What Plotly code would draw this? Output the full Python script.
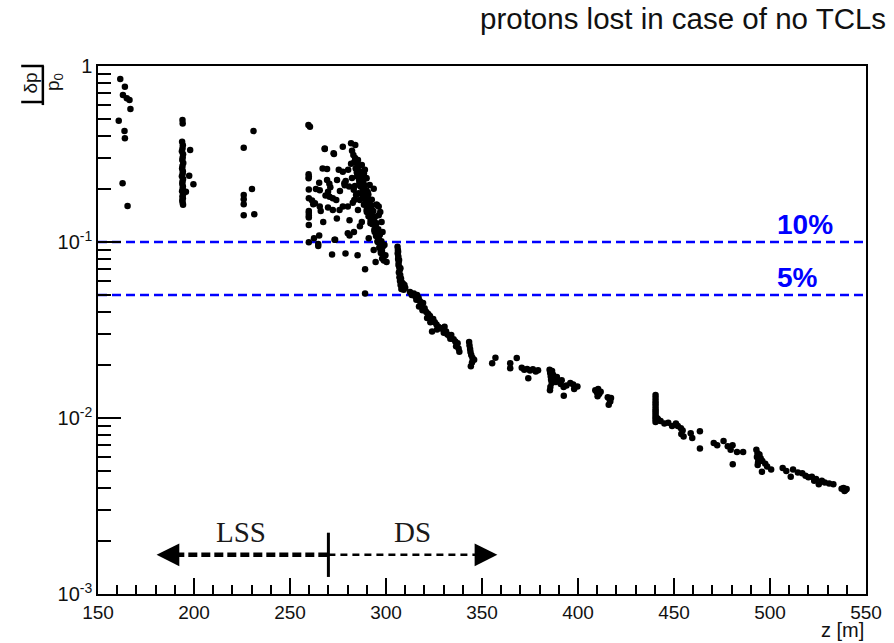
import math
import plotly.graph_objects as go

# ---- loss positions z [m] and relative momentum deviation |dp|/p0 ----
# region near z ~ 160 m
z_a = [161.6, 164.0, 163.0, 165.0, 166.4, 166.9, 160.8, 163.8, 164.0, 162.8, 165.4]
dp_a = [0.844, 0.763, 0.684, 0.655, 0.641, 0.570, 0.489, 0.427, 0.388, 0.216, 0.160]

# region near z ~ 194 m
z_b = [194.0, 194.1, 193.8, 194.2, 194.0, 193.7, 194.3, 194.1, 193.9, 194.4, 194.0, 193.8,
       194.2, 194.1, 193.7, 194.3, 194.0, 193.9, 194.2, 194.1, 193.8, 194.4, 194.0, 194.2,
       193.9, 194.1, 194.3, 198.0, 197.5, 199.7, 195.8]
dp_b = [0.493, 0.472, 0.371, 0.355, 0.340, 0.328, 0.315, 0.302, 0.292, 0.281, 0.270, 0.262,
        0.252, 0.244, 0.236, 0.228, 0.221, 0.214, 0.207, 0.200, 0.194, 0.188, 0.182, 0.177,
        0.172, 0.167, 0.163, 0.333, 0.238, 0.213, 0.193]

# region near z ~ 228 m
z_c = [225.9, 231.0, 230.2, 225.9, 225.9, 225.9, 225.9, 231.4]
dp_c = [0.343, 0.427, 0.200, 0.185, 0.175, 0.164, 0.142, 0.144]

# scattered losses between 259 m and 290 m
z_d = [259.6, 260.4, 268.1, 272.7, 277.5, 281.8, 284.0, 259.7, 259.7, 259.8, 259.8, 259.8,
       259.8, 259.8, 259.8, 259.8, 259.8, 259.8, 264.7, 269.3, 269.3, 265.2, 265.5, 269.8,
       270.6, 272.3, 274.1, 262.1, 265.5, 269.8, 272.3, 275.8, 277.5, 280.1, 282.7, 283.5,
       267.3, 274.4, 281.0, 286.4, 280.1, 281.0, 265.2, 273.2, 264.7, 271.9, 278.9, 285.2,
       289.1, 289.1, 275.4, 277.5, 281.8, 284.7, 285.2, 268.1, 272.9, 273.5, 261.5, 263.0,
       266.0, 268.5, 270.5, 271.0, 276.0, 278.5, 279.0, 267.0, 263.5, 274.5, 262.5,
       278.3, 280.8, 283.2, 285.7, 287.8]
dp_d = [0.462, 0.452, 0.338, 0.319, 0.348, 0.364, 0.356, 0.243, 0.230, 0.199, 0.177, 0.146,
        0.138, 0.125, 0.0996, 0.235, 0.150, 0.141, 0.0974, 0.260, 0.225, 0.217, 0.197, 0.193,
        0.181, 0.177, 0.173, 0.164, 0.159, 0.157, 0.152, 0.152, 0.159, 0.159, 0.167, 0.173,
        0.130, 0.136, 0.133, 0.123, 0.112, 0.109, 0.109, 0.103, 0.095, 0.085, 0.086, 0.084,
        0.070, 0.051, 0.257, 0.251, 0.278, 0.280, 0.257, 0.340, 0.316, 0.103, 0.172, 0.166,
        0.150, 0.184, 0.214, 0.205, 0.195, 0.210, 0.222, 0.262, 0.200, 0.225, 0.105,
        0.216, 0.207, 0.198, 0.189, 0.181]

# dense cloud between 280 m and 301 m
z_e = [284.2, 284.8, 285.5, 285.0, 285.9, 286.3, 286.8, 286.1, 287.2, 287.6, 286.9, 288.1,
       288.4, 287.8, 289.0, 289.3, 288.7, 289.8, 290.2, 289.5, 290.8, 291.1, 290.4, 291.6,
       292.0, 291.3, 292.5, 292.9, 292.2, 293.4, 293.8, 293.0, 294.3, 294.6, 293.9, 295.1,
       295.5, 294.8, 296.0, 296.3, 295.7, 296.8, 297.1, 296.5, 297.6, 297.9, 297.3, 298.3,
       298.6, 298.0, 298.9, 296.2, 297.0, 295.2, 288.5, 289.9, 283.5, 283.9, 284.6, 291.9,
       290.9, 289.9, 282.3, 283.0,
       280.3, 282.3, 283.8, 286.9, 289.5, 290.5, 292.6, 293.6, 295.1, 296.2, 297.7, 298.2,
       299.2, 299.7, 300.3, 288.5, 290.0, 292.0, 294.1, 295.6, 297.2, 286.4, 284.4, 285.4,
       287.4, 291.0, 293.6, 294.6, 285.4, 287.4, 289.0, 291.5, 283.3]
dp_e = [0.262, 0.248, 0.270, 0.236, 0.228, 0.252, 0.241, 0.219, 0.230, 0.214, 0.206, 0.222,
        0.199, 0.193, 0.210, 0.188, 0.180, 0.197, 0.176, 0.170, 0.186, 0.164, 0.158, 0.173,
        0.152, 0.146, 0.161, 0.141, 0.136, 0.150, 0.131, 0.126, 0.139, 0.121, 0.117, 0.128,
        0.112, 0.108, 0.118, 0.104, 0.100, 0.110, 0.0965, 0.093, 0.101, 0.089, 0.0865, 0.094,
        0.083, 0.0805, 0.0785, 0.159, 0.148, 0.163, 0.245, 0.230, 0.285, 0.300, 0.289, 0.128,
        0.140, 0.152, 0.330, 0.312,
        0.257, 0.231, 0.208, 0.216, 0.231, 0.192, 0.174, 0.201, 0.163, 0.142, 0.130, 0.114,
        0.096, 0.084, 0.077, 0.163, 0.148, 0.133, 0.114, 0.101, 0.090, 0.173, 0.185, 0.152,
        0.130, 0.105, 0.090, 0.077, 0.292, 0.274, 0.257, 0.211, 0.114]

# narrow stripe near z ~ 307 m
z_f = [306.0, 306.2, 306.1, 306.4, 306.3, 306.6, 306.5, 306.9, 307.1, 306.7, 307.4, 307.0,
       307.8, 307.3, 308.2, 308.9, 307.6, 308.5, 309.6, 310.0, 308.0, 309.2, 306.3, 306.8,
       307.5]
dp_f = [0.094, 0.090, 0.086, 0.083, 0.080, 0.077, 0.074, 0.072, 0.069, 0.067, 0.065, 0.063,
        0.062, 0.060, 0.059, 0.058, 0.057, 0.056, 0.057, 0.055, 0.054, 0.0535, 0.088, 0.079,
        0.071]

# descending band between 312 m and 346 m
z_g = [312.5, 313.4, 314.5, 315.3, 316.2, 317.0, 315.8, 317.7, 318.4, 317.2, 319.3, 320.1,
       319.0, 321.0, 322.0, 321.4, 322.9, 323.7, 323.1, 324.6, 325.4, 324.0, 326.3, 327.2,
       326.6, 328.4, 329.5, 330.5, 331.3, 330.1, 332.0, 333.0, 334.0, 333.5, 335.2, 336.1,
       337.3, 336.5, 338.2, 337.8, 343.3, 343.5, 343.8, 344.0, 344.4, 345.0, 345.9, 344.2,
       344.8]
dp_g = [0.052, 0.050, 0.051, 0.049, 0.050, 0.048, 0.047, 0.046, 0.044, 0.043, 0.045, 0.042,
        0.041, 0.040, 0.039, 0.037, 0.038, 0.036, 0.035, 0.0365, 0.035, 0.031, 0.034, 0.033,
        0.0318, 0.0325, 0.032, 0.033, 0.031, 0.0305, 0.0298, 0.0292, 0.0296, 0.0282, 0.028,
        0.0272, 0.0266, 0.0256, 0.0238, 0.0248, 0.0270, 0.0258, 0.0247, 0.0237, 0.0228, 0.0220,
        0.0214, 0.0197, 0.0207]

# losses between 355 m and 418 m
z_h = [355.3, 357.0, 364.7, 364.7, 368.1, 370.7, 372.0, 373.5, 375.0, 376.5, 378.0, 379.2,
       374.1, 385.2, 385.5, 385.8, 386.0, 386.3, 385.6, 387.0, 388.0, 389.0, 388.5, 390.0,
       391.0, 391.5, 392.6, 392.5, 394.0, 396.0, 397.5, 399.7, 398.0, 385.4, 386.5, 409.0,
       409.8, 410.5, 411.0, 410.2, 411.8, 415.5, 416.5, 416.8, 417.2, 416.0]
dp_h = [0.0205, 0.0220, 0.0205, 0.0192, 0.0219, 0.0193, 0.0188, 0.0190, 0.0186, 0.0189,
        0.0184, 0.0187, 0.0168, 0.0188, 0.0180, 0.0172, 0.0165, 0.0158, 0.0150, 0.0176,
        0.0169, 0.0171, 0.0160, 0.0163, 0.0156, 0.0164, 0.0134, 0.0150, 0.0153, 0.0158,
        0.0155, 0.0151, 0.0146, 0.0144, 0.0185, 0.0144, 0.0140, 0.0146, 0.0137, 0.0133,
        0.0141, 0.0131, 0.0127, 0.0124, 0.0130, 0.0119]

# losses from 440 m to the end of the line
z_i = [440.4, 440.4, 440.4, 440.4, 440.4, 440.4, 440.4, 440.4, 440.4, 440.4, 440.4, 440.4,
       441.0, 442.0, 443.0, 441.5, 445.0, 447.0, 449.0, 451.0, 452.0, 453.6, 454.5, 453.8,
       455.0, 458.7, 459.5, 463.5, 463.5, 470.7, 472.5, 475.8, 478.0, 479.5, 480.5, 482.8,
       480.6, 486.0, 492.9, 493.5, 493.2, 494.0, 493.8, 494.5, 495.2, 496.0, 495.8, 497.5,
       498.5, 500.6, 493.6, 506.6, 508.5, 510.8, 512.0, 514.5, 516.8, 518.5, 520.0, 521.8,
       523.0, 524.0, 525.4, 527.0, 528.5, 530.8, 533.0, 537.3, 538.3, 539.3, 539.9, 538.8]
dp_i = [0.0135, 0.0130, 0.0125, 0.0121, 0.0117, 0.0113, 0.0110, 0.0107, 0.0104, 0.0101,
        0.0098, 0.0095, 0.0100, 0.0097, 0.0096, 0.0099, 0.0093, 0.0094, 0.0090, 0.0093,
        0.0090, 0.00875, 0.0085, 0.0081, 0.00784, 0.0082, 0.0077, 0.0084, 0.0067, 0.0072,
        0.0070, 0.00741, 0.0069, 0.0066, 0.0070, 0.0064, 0.00546, 0.0064, 0.0066, 0.0063,
        0.0060, 0.0058, 0.0056, 0.0062, 0.0059, 0.0057, 0.00495, 0.0055, 0.0053, 0.0051,
        0.0054, 0.0052, 0.0050, 0.00464, 0.0051, 0.0049, 0.00485, 0.0047, 0.0046, 0.00464,
        0.0044, 0.0045, 0.0042, 0.0044, 0.0043, 0.00425, 0.0042, 0.00396, 0.0040, 0.0039,
        0.00395, 0.00385]

z_all = z_a + z_b + z_c + z_d + z_e + z_f + z_g + z_h + z_i
dp_all = dp_a + dp_b + dp_c + dp_d + dp_e + dp_f + dp_g + dp_h + dp_i

# ---- reference levels and section markers ----
levels = [0.10, 0.05]
level_labels = ["10%", "5%"]
z_range = [150, 550]
z_lss_end = 180.5
z_boundary = 270.0
z_ds_end = 358.0
arrow_dp = 0.00167
section_labels = ["LSS", "DS"]
section_label_z = [224.4, 313.6]
section_label_dp = 0.00225

x_ticks = [150, 200, 250, 300, 350, 400, 450, 500, 550]
x_minor = [v for v in range(160, 550, 10) if v % 50 != 0]
y_ticks = [0.001, 0.01, 0.1, 1.0]
y_ticktext = ["10<sup>-3</sup>", "10<sup>-2</sup>", "10<sup>-1</sup>", "1"]
y_minor = [m * d for d in (0.001, 0.01, 0.1) for m in range(2, 10)]

FONT = "Liberation Sans, Arial, sans-serif"
SERIF = "Liberation Serif, Times New Roman, serif"

fig = go.Figure()

# threshold lines
for lv in levels:
    fig.add_trace(go.Scatter(
        x=z_range, y=[lv, lv], mode="lines",
        line=dict(color="#0000ff", width=2.6, dash="9px,5px"),
        hoverinfo="skip", showlegend=False))

# loss points
fig.add_trace(go.Scatter(
    x=z_all, y=dp_all, mode="markers",
    marker=dict(color="black", size=6.5, line=dict(width=0)),
    showlegend=False))

# LSS / DS section arrows
fig.add_trace(go.Scatter(
    x=[z_lss_end + 3, z_boundary], y=[arrow_dp, arrow_dp], mode="lines",
    line=dict(color="black", width=4.5, dash="9px,4px"),
    hoverinfo="skip", showlegend=False))
fig.add_trace(go.Scatter(
    x=[z_boundary, z_ds_end - 3], y=[arrow_dp, arrow_dp], mode="lines",
    line=dict(color="black", width=2.5, dash="7px,5px"),
    hoverinfo="skip", showlegend=False))
fig.add_trace(go.Scatter(
    x=[z_boundary, z_boundary], y=[0.00125, 0.00223], mode="lines",
    line=dict(color="black", width=3),
    hoverinfo="skip", showlegend=False))

ly = math.log10(arrow_dp)
for tip, tail in ((z_lss_end, z_lss_end + 6), (z_ds_end, z_ds_end - 6)):
    fig.add_annotation(x=tip, y=ly, ax=tail, ay=ly, xref="x", yref="y",
                       axref="x", ayref="y", text="", showarrow=True,
                       arrowhead=2, arrowsize=1.3, arrowwidth=3.5,
                       arrowcolor="black")

for lab, zx in zip(section_labels, section_label_z):
    fig.add_annotation(x=zx, y=math.log10(section_label_dp), xref="x", yref="y",
                       text=lab, showarrow=False,
                       font=dict(family=SERIF, size=29, color="#1a1a1a"))

# threshold labels
for lv, lab in zip(levels, level_labels):
    fig.add_annotation(x=502.5, y=math.log10(lv), xref="x", yref="y",
                       text=f"<b>{lab}</b>", showarrow=False,
                       xanchor="left", yanchor="bottom", yshift=0,
                       font=dict(family=FONT, size=28, color="#0000ff"))

# title
fig.add_annotation(x=1.028, y=1.090, xref="paper", yref="paper",
                   text="protons lost in case of no TCLs", showarrow=False,
                   xanchor="right", yanchor="middle",
                   font=dict(family=FONT, size=29.5, color="#111111"))

# x axis title
fig.add_annotation(x=1.0, y=-0.069, xref="paper", yref="paper",
                   text="z [m]", showarrow=False, xanchor="right", yanchor="middle",
                   font=dict(family=FONT, size=20, color="#111111"))

# y axis title: |dp| / p0, rotated fraction
fig.add_annotation(x=-0.0885, y=0.967, xref="paper", yref="paper",
                   text="δp", showarrow=False, textangle=-90,
                   xanchor="center", yanchor="middle",
                   font=dict(family=FONT, size=19, color="#111111"))
fig.add_annotation(x=-0.0565, y=0.969, xref="paper", yref="paper",
                   text="p<sub>0</sub>", showarrow=False, textangle=-90,
                   xanchor="center", yanchor="middle",
                   font=dict(family=FONT, size=19, color="#111111"))
for y0 in (1.0, 0.9318):
    fig.add_shape(type="line", xref="paper", yref="paper",
                  x0=-0.1, x1=-0.0705, y0=y0, y1=y0,
                  line=dict(color="black", width=2.5))
fig.add_shape(type="line", xref="paper", yref="paper",
              x0=-0.0718, x1=-0.0718, y0=1.0, y1=0.926,
              line=dict(color="black", width=2.5))

fig.update_layout(
    width=894, height=643, autosize=False,
    margin=dict(l=98, r=16, t=66, b=49),
    paper_bgcolor="white", plot_bgcolor="white",
    showlegend=False,
    xaxis=dict(
        range=z_range, showgrid=False, zeroline=False,
        showline=True, linecolor="black", linewidth=1.5, mirror=True,
        tickmode="array", tickvals=x_ticks, ticks="inside", ticklen=16,
        tickwidth=1.5, tickcolor="black",
        tickfont=dict(family=FONT, size=19, color="#111111"),
        minor=dict(tickvals=x_minor, ticks="inside", ticklen=9,
                   tickwidth=1.5, tickcolor="black", showgrid=False),
    ),
    yaxis=dict(
        type="log", range=[-3, 0], showgrid=False, zeroline=False,
        showline=True, linecolor="black", linewidth=1.5, mirror=True,
        tickmode="array", tickvals=y_ticks, ticktext=y_ticktext,
        ticks="inside", ticklen=23, tickwidth=1.5, tickcolor="black",
        tickfont=dict(family=FONT, size=20, color="#111111"),
        minor=dict(tickvals=y_minor, ticks="inside", ticklen=13,
                   tickwidth=1.5, tickcolor="black", showgrid=False),
    ),
)

fig.write_html("out.html")
